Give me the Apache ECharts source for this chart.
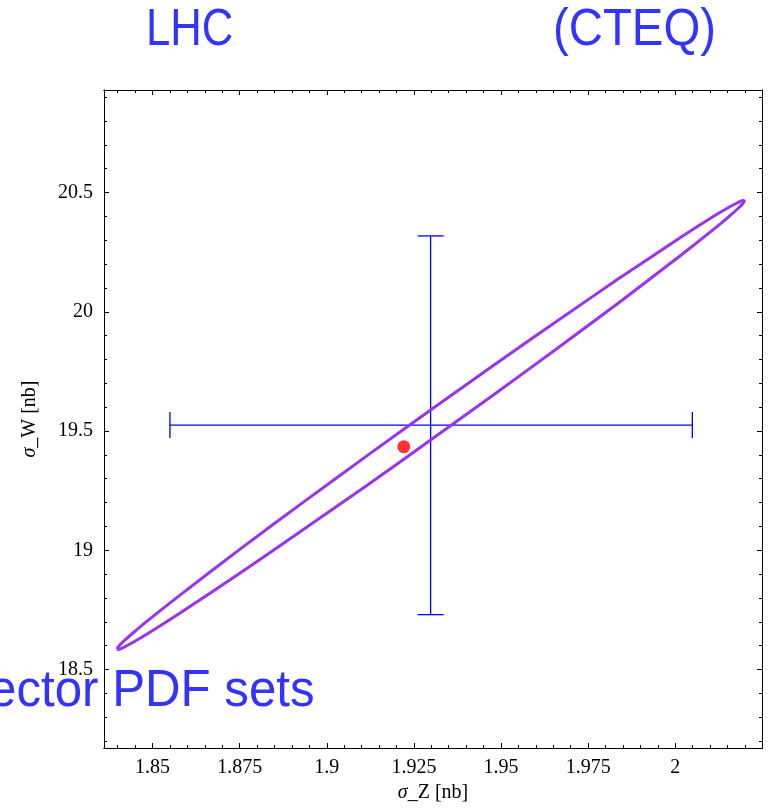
<!DOCTYPE html>
<html>
<head>
<meta charset="utf-8">
<script src="https://cdn.jsdelivr.net/npm/echarts@6/dist/echarts.min.js"></script>
<style>
html,body{margin:0;padding:0;background:#fff;}
#c{width:771px;height:812px;}
</style>
</head>
<body>
<div id="c"></div>
<script>
// ---- data ----
const xMajor = [1.85, 1.875, 1.9, 1.925, 1.95, 1.975, 2];
const xTickLabels = ['1.85', '1.875', '1.9', '1.925', '1.95', '1.975', '2'];
const xMinor = [1.84, 1.845, 1.855, 1.86, 1.865, 1.87, 1.88, 1.885, 1.89, 1.895, 1.905, 1.91, 1.915, 1.92,
  1.93, 1.935, 1.94, 1.945, 1.955, 1.96, 1.965, 1.97, 1.98, 1.985, 1.99, 1.995, 2.005, 2.01, 2.015, 2.02];
const yMajor = [18.5, 19, 19.5, 20, 20.5];
const yTickLabels = ['18.5', '19', '19.5', '20', '20.5'];
const yMinor = [18.2, 18.3, 18.4, 18.6, 18.7, 18.8, 18.9, 19.1, 19.2, 19.3, 19.4, 19.6, 19.7, 19.8, 19.9,
  20.1, 20.2, 20.3, 20.4, 20.6, 20.7, 20.8, 20.9];

// ellipse outline (sigma_Z, sigma_W), upper branch then lower branch
const ellipseX = [1.8398, 1.84025, 1.8416, 1.8443, 1.8488, 1.8578, 1.8758, 1.8938, 1.9118, 1.9298,
  1.9478, 1.9658, 1.9838, 2.0018, 2.0108, 2.0153, 2.0180, 2.01935, 2.0198,
  2.01935, 2.0180, 2.0153, 2.0108, 2.0018, 1.9838, 1.9658, 1.9478, 1.9298, 1.9118, 1.8938, 1.8758,
  1.8578, 1.8488, 1.8443, 1.8416, 1.84025, 1.8398];
const ellipseY = [18.586, 18.597, 18.617, 18.652, 18.707, 18.811, 19.012, 19.207, 19.399, 19.588,
  19.775, 19.958, 20.139, 20.314, 20.398, 20.437, 20.458, 20.466, 20.464,
  20.453, 20.433, 20.398, 20.343, 20.239, 20.038, 19.843, 19.651, 19.462, 19.275, 19.092, 18.911,
  18.736, 18.652, 18.613, 18.592, 18.584, 18.586];

// error cross: centre and extents
const errCenter = [1.9298, 19.525];
const errX = [1.855, 2.0049];
const errY = [18.730, 20.318];

// central (red) point
const centralPoint = [1.9221, 19.434];

// ---- chart ----
const chart = echarts.init(document.getElementById('c'), null, {renderer: 'canvas'});
const XMIN = 1.83608, XMAX = 2.02489, YMIN = 18.1709, YMAX = 20.9298;
const serif = "'Liberation Serif','Times New Roman',serif";
const sans = "'Liberation Sans',Arial,sans-serif";
const lineCol = '#000';

function xAxisDef(pos, ticks, len, labels) {
  return {
    type: 'value', position: pos, min: XMIN, max: XMAX, gridIndex: 0,
    axisLine: {show: true, onZero: false, lineStyle: {color: lineCol, width: 1}},
    axisTick: {show: true, inside: true, length: len, customValues: ticks, lineStyle: {color: lineCol, width: 1}},
    axisLabel: labels ? {
      show: true, customValues: xMajor, margin: 10, color: '#000', fontFamily: serif, fontSize: 20,
      formatter: v => xTickLabels[xMajor.findIndex(m => Math.abs(m - v) < 1e-9)]
    } : {show: false},
    splitLine: {show: false},
    name: labels ? '{i|σ}_Z [nb]' : '',
    nameLocation: 'middle', nameGap: 34,
    nameTextStyle: {color: '#000', fontFamily: serif, fontSize: 20,
      rich: {i: {fontStyle: 'italic', fontFamily: serif, fontSize: 20, color: '#000'}}}
  };
}
function yAxisDef(pos, ticks, len, labels) {
  return {
    type: 'value', position: pos, min: YMIN, max: YMAX, gridIndex: 0,
    axisLine: {show: true, onZero: false, lineStyle: {color: lineCol, width: 1}},
    axisTick: {show: true, inside: true, length: len, customValues: ticks, lineStyle: {color: lineCol, width: 1}},
    axisLabel: labels ? {
      show: true, customValues: yMajor, margin: 11, color: '#000', fontFamily: serif, fontSize: 20,
      formatter: v => yTickLabels[yMajor.findIndex(m => Math.abs(m - v) < 1e-9)]
    } : {show: false},
    splitLine: {show: false},
    name: labels ? '{i|σ}_W [nb]' : '',
    nameLocation: 'middle', nameGap: 64, nameRotate: 90,
    nameTextStyle: {color: '#000', fontFamily: serif, fontSize: 20,
      rich: {i: {fontStyle: 'italic', fontFamily: serif, fontSize: 20, color: '#000'}}}
  };
}

const option = {
  animation: false,
  backgroundColor: '#fff',
  grid: {left: 104, right: 9, top: 90, bottom: 64, containLabel: false},
  xAxis: [
    xAxisDef('bottom', xMajor, 5, true),
    xAxisDef('bottom', xMinor, 3, false),
    xAxisDef('top', xMajor, 5, false),
    xAxisDef('top', xMinor, 3, false)
  ],
  yAxis: [
    yAxisDef('left', yMajor, 5, true),
    yAxisDef('left', yMinor, 3, false),
    yAxisDef('right', yMajor, 5, false),
    yAxisDef('right', yMinor, 3, false)
  ],
  graphic: [
    {type: 'text', x: 146, y: 31, scaleX: 0.84, z: 100,
      style: {text: 'LHC', font: '52px ' + sans, fill: '#3333ff', verticalAlign: 'middle'}},
    {type: 'text', x: 553, y: 31, scaleX: 0.91, z: 100,
      style: {text: '(CTEQ)', font: '52px ' + sans, fill: '#3333ff', verticalAlign: 'middle'}},
    {type: 'text', x: -11, y: 692, scaleX: 0.947, z: 100,
      style: {text: 'ector PDF sets', font: '52px ' + sans, fill: '#3333ff', verticalAlign: 'middle'}}
  ],
  series: [
    {
      type: 'custom', xAxisIndex: 0, yAxisIndex: 0, z: 2,
      data: [[errCenter[0], errCenter[1], errX[0], errX[1], errY[0], errY[1]]],
      renderItem: function (params, api) {
        const x = api.value(0), y = api.value(1);
        const l = api.coord([api.value(2), y]);
        const r = api.coord([api.value(3), y]);
        const b = api.coord([x, api.value(4)]);
        const t = api.coord([x, api.value(5)]);
        const st = {stroke: '#0000ff', lineWidth: 1.3, fill: null};
        const cx = 13, cy = 13;
        const seg = (x1, y1, x2, y2) => ({type: 'line', shape: {x1, y1, x2, y2}, style: st});
        return {type: 'group', children: [
          seg(l[0], l[1], r[0], r[1]),
          seg(t[0], t[1], b[0], b[1]),
          seg(l[0], l[1] - cy, l[0], l[1] + cy),
          seg(r[0], r[1] - cy, r[0], r[1] + cy),
          seg(t[0] - cx, t[1], t[0] + cx, t[1]),
          seg(b[0] - cx, b[1], b[0] + cx, b[1])
        ]};
      }
    },
    {
      type: 'line', xAxisIndex: 0, yAxisIndex: 0, z: 3,
      data: ellipseX.map((x, i) => [x, ellipseY[i]]),
      showSymbol: false, symbol: 'none', smooth: 0.25,
      lineStyle: {color: '#9933ee', width: 3}
    },
    {
      type: 'scatter', xAxisIndex: 0, yAxisIndex: 0, z: 4,
      data: [centralPoint], symbol: 'circle', symbolSize: 13,
      itemStyle: {color: '#ff0000'}
    }
  ]
};
chart.setOption(option);
</script>
</body>
</html>
